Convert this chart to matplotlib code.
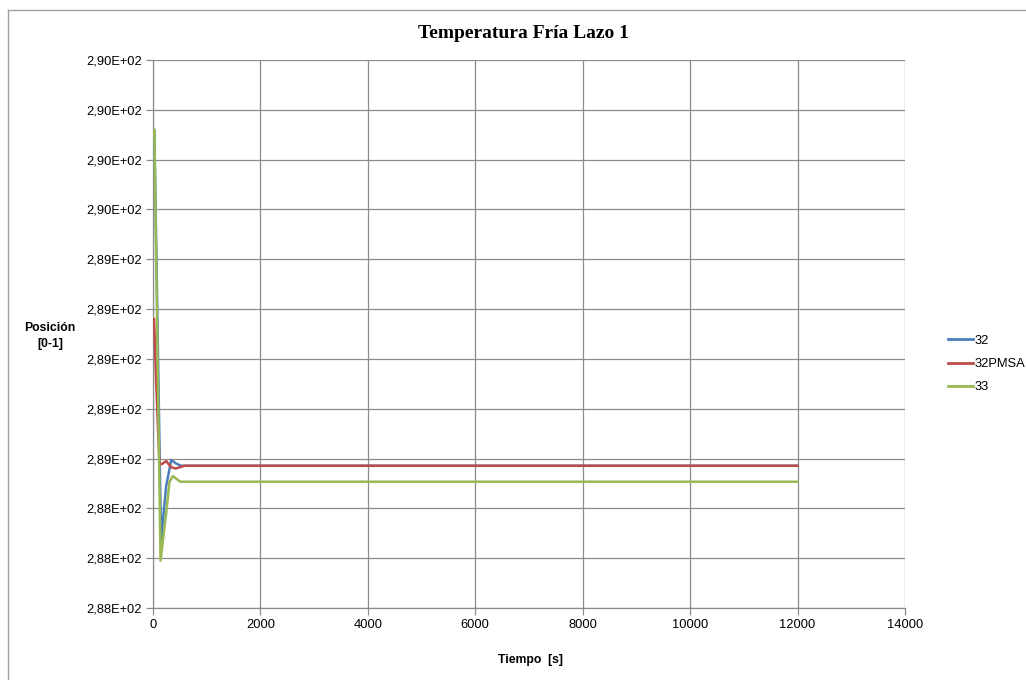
import matplotlib
matplotlib.use("Agg")
import matplotlib.pyplot as plt
import matplotlib.ticker as mticker
from matplotlib.lines import Line2D

# ── data ─────────────────────────────────────────────────────────────────────
t_32 = [0, 25, 150, 245, 340, 430, 525, 12000]
v_32 = [289.90, 289.92, 288.27, 288.49, 288.594, 288.58, 288.571, 288.571]

t_32pmsa = [20, 60, 121, 180, 245, 340, 420, 590, 12000]
v_32pmsa = [289.16, 288.90, 288.575, 288.58, 288.59, 288.565, 288.56, 288.571, 288.571]

t_33 = [0, 25, 140, 245, 307, 370, 505, 12000]
v_33 = [289.90, 289.92, 288.19, 288.38, 288.507, 288.53, 288.507, 288.507]

SERIES = ["32", "32PMSA", "33"]
COLORS = ["#4A7EBB", "#BE4B48", "#98B954"]

Y_TICKS = [288.0 + 0.2 * k for k in range(12)]
X_TICKS = list(range(0, 14001, 2000))

# ── figure ───────────────────────────────────────────────────────────────────
fig = plt.figure(figsize=(10.26, 6.80), dpi=100)
ax = fig.add_axes([153 / 1026, 1 - 608 / 680, (905 - 153) / 1026, (608 - 60) / 680])

for (t, v), name, col in zip([(t_32, v_32), (t_32pmsa, v_32pmsa), (t_33, v_33)],
                             SERIES, COLORS):
    ax.plot(t, v, color=col, lw=1.8, label=name, solid_joinstyle="round", zorder=3)

ax.set_xlim(0, 14000)
ax.set_ylim(288.0, 290.2)
ax.set_xticks(X_TICKS)
ax.set_yticks(Y_TICKS)
ax.yaxis.set_major_formatter(
    mticker.FuncFormatter(lambda v, p: f"{v:.2E}".replace(".", ",")))
ax.grid(True, color="#8c8c8c", lw=0.9, zorder=0)
for s in ["top", "right"]:
    ax.spines[s].set_visible(False)
for s in ["left", "bottom"]:
    ax.spines[s].set_color("#8c8c8c")
    ax.spines[s].set_linewidth(0.9)
ax.tick_params(colors="#8c8c8c", labelcolor="black", length=5, width=0.9,
               labelsize=9.3, pad=3)
for lab in ax.get_xticklabels() + ax.get_yticklabels():
    lab.set_fontfamily("Liberation Sans")

# texts
fig.text(523 / 1026, 1 - 33 / 680, "Temperatura Fría Lazo 1",
         ha="center", va="center", fontsize=14, fontweight="bold",
         family="Liberation Serif")
fig.text(50 / 1026, 1 - 336 / 680, "Posición\n[0-1]", ha="center", va="center",
         fontsize=8.8, fontweight="bold", family="Liberation Sans", linespacing=1.5)
fig.text(530 / 1026, 1 - 660 / 680, "Tiempo  [s]", ha="center", va="center",
         fontsize=8.8, fontweight="bold", family="Liberation Sans")

# legend
handles = [Line2D([0], [0], color=c, lw=2) for c in COLORS]
fig.legend(handles, SERIES, loc="center left",
           bbox_to_anchor=(936 / 1026, 1 - 364 / 680), frameon=False,
           handlelength=2.0, handletextpad=0.1, labelspacing=0.85,
           prop={"family": "Liberation Sans", "size": 9.3})

# chart area border
fig.add_artist(Line2D([8 / 1026, 8 / 1026], [0, 1 - 10 / 680],
                      transform=fig.transFigure, color="#a0a0a0", lw=1))
fig.add_artist(Line2D([8 / 1026, 1], [1 - 10 / 680, 1 - 10 / 680],
                      transform=fig.transFigure, color="#a0a0a0", lw=1))

fig.savefig("out.png", dpi=100)
